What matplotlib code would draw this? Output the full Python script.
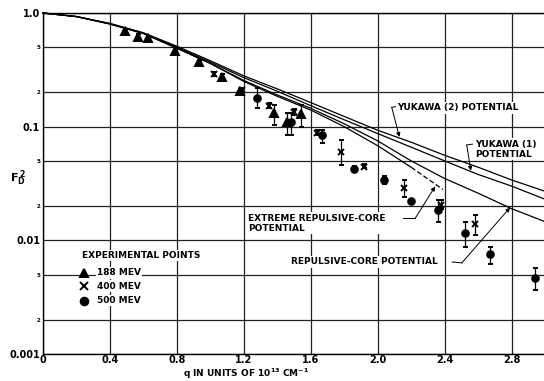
import numpy as np
import matplotlib.pyplot as plt

plt.rcParams['font.family'] = 'DejaVu Sans'
plt.rcParams['font.weight'] = 'bold'
plt.rcParams['mathtext.default'] = 'bf'

# theoretical curves
q_curve = [0.0, 0.2, 0.4, 0.6, 0.8, 1.0, 1.2, 1.4, 1.6, 1.8, 2.0, 2.2, 2.4, 2.6, 2.8, 3.0]
yukawa2 = [1.0, 0.93, 0.81, 0.67, 0.51, 0.38, 0.28, 0.215, 0.163, 0.123, 0.093, 0.073, 0.056, 0.044, 0.034, 0.027]
yukawa1 = [1.0, 0.93, 0.805, 0.665, 0.50, 0.37, 0.27, 0.205, 0.153, 0.115, 0.087, 0.066, 0.050, 0.038, 0.030, 0.023]
rep_core = [1.0, 0.93, 0.80, 0.66, 0.49, 0.36, 0.255, 0.19, 0.145, 0.106, 0.075, 0.050, 0.035, 0.026, 0.019, 0.0146]
q_ext = [0.0, 0.2, 0.4, 0.6, 0.8, 1.0, 1.2, 1.4, 1.6, 1.8, 2.0, 2.2, 2.39]
ext_core = [1.0, 0.93, 0.80, 0.66, 0.49, 0.36, 0.25, 0.185, 0.14, 0.10, 0.068, 0.044, 0.028]
ext_dash_from = 2.2

# experimental points
q188 = [0.49, 0.57, 0.63, 0.79, 0.93, 1.07, 1.18, 1.38, 1.46, 1.54]
f188 = [0.695, 0.62, 0.60, 0.46, 0.373, 0.275, 0.206, 0.131, 0.111, 0.129]
lo188 = [0.66, 0.59, 0.57, 0.45, 0.365, 0.255, 0.20, 0.104, 0.085, 0.100]
hi188 = [0.73, 0.65, 0.63, 0.475, 0.38, 0.29, 0.215, 0.155, 0.132, 0.155]

q400 = [1.02, 1.19, 1.35, 1.50, 1.64, 1.78, 1.92, 2.16, 2.38, 2.58]
f400 = [0.289, 0.21, 0.153, 0.134, 0.0887, 0.060, 0.0446, 0.0288, 0.0206, 0.0139]
lo400 = [0.28, 0.203, 0.147, 0.127, 0.085, 0.046, 0.043, 0.0242, 0.019, 0.0112]
hi400 = [0.30, 0.218, 0.16, 0.142, 0.093, 0.0765, 0.047, 0.0342, 0.0225, 0.0168]

q500 = [1.28, 1.48, 1.67, 1.86, 2.04, 2.20, 2.36, 2.52, 2.67, 2.94]
f500 = [0.178, 0.109, 0.0847, 0.0423, 0.034, 0.022, 0.0186, 0.0116, 0.0076, 0.00467]
lo500 = [0.146, 0.085, 0.072, 0.040, 0.031, 0.021, 0.0146, 0.0087, 0.0062, 0.00369]
hi500 = [0.219, 0.132, 0.094, 0.045, 0.037, 0.023, 0.0227, 0.0146, 0.0088, 0.00574]

xticks = [0, 0.4, 0.8, 1.2, 1.6, 2.0, 2.4, 2.8]
xticklabels = ['0', '0.4', '0.8', '1.2', '1.6', '2.0', '2.4', '2.8']
yticks_major = [1.0, 0.1, 0.01, 0.001]
ylabels_major = ['1.0', '0.1', '0.01', '0.001']
yticks_minor = [0.5, 0.2, 0.05, 0.02, 0.005, 0.002]
ylabels_minor = ['5', '2', '5', '2', '5', '2']

fig = plt.figure(figsize=(5.44, 3.81), dpi=100)
ax = fig.add_axes([43 / 544, 27 / 381, 502 / 544, 341 / 381])
ax.set_yscale('log')
ax.set_xlim(0, 3.0)
ax.set_ylim(0.001, 1.0)

ax.set_xticks(xticks)
ax.set_xticklabels(xticklabels, fontsize=7)
ax.set_yticks(yticks_major)
ax.set_yticklabels(ylabels_major, fontsize=7)
ax.set_yticks(yticks_minor, minor=True)
ax.set_yticklabels(ylabels_minor, minor=True, fontsize=4)
ax.tick_params(which='both', length=0, pad=2)
ax.tick_params(axis='x', pad=1)
ax.grid(True, which='both', color='#222222', lw=0.9)
ax.spines['right'].set_visible(False)
for s in ['left', 'top', 'bottom']:
    ax.spines[s].set_linewidth(1.0)

lw = 0.9
ax.plot(q_curve, yukawa2, color='k', lw=lw, clip_on=False)
ax.plot(q_curve, yukawa1, color='k', lw=lw, clip_on=False)
ax.plot(q_curve, rep_core, color='k', lw=lw, clip_on=False)
q_ext_a = np.array(q_ext)
ext_a = np.array(ext_core)
solid = q_ext_a <= ext_dash_from
dash = q_ext_a >= ext_dash_from
ax.plot(q_ext_a[solid], ext_a[solid], color='k', lw=lw, clip_on=False)
ax.plot(q_ext_a[dash], ext_a[dash], color='k', lw=lw, ls=(0, (4, 2)))

def points(q, f, lo, hi, marker, ms):
    f = np.array(f)
    err = [f - np.array(lo), np.array(hi) - f]
    ax.errorbar(q, f, yerr=err, fmt=marker, ms=ms, color='k', mew=1.4,
                elinewidth=0.9, capsize=1.8, capthick=0.9, zorder=3)

points(q188, f188, lo188, hi188, '^', 5.5)
points(q400, f400, lo400, hi400, 'x', 4.5)
points(q500, f500, lo500, hi500, 'o', 4.8)

box = dict(fc='white', ec='none', pad=1.0)
tfs = 6.5
arrow = dict(arrowstyle='-|>', color='k', lw=0.7, mutation_scale=6, shrinkA=0, shrinkB=0)

# Yukawa (2)
ax.text(2.115, 0.146, 'YUKAWA (2) POTENTIAL', fontsize=tfs, va='center', ha='left', bbox=box)
ax.plot([2.11, 2.084], [0.150, 0.148], color='k', lw=0.7)
ax.annotate('', xy=(2.13, 0.0813), xytext=(2.084, 0.148), arrowprops=arrow)

# Yukawa (1)
ax.text(2.58, 0.0633, 'YUKAWA (1)\nPOTENTIAL', fontsize=tfs, va='center', ha='left',
        linespacing=1.2, bbox=box)
ax.plot([2.575, 2.532], [0.0705, 0.069], color='k', lw=0.7)
ax.annotate('', xy=(2.557, 0.041), xytext=(2.532, 0.069), arrowprops=arrow)

# Extreme repulsive core
ax.text(1.225, 0.0141, 'EXTREME REPULSIVE-CORE\nPOTENTIAL', fontsize=tfs, va='center',
        ha='left', linespacing=1.2, bbox=box)
ax.plot([2.15, 2.224], [0.0156, 0.0156], color='k', lw=0.7)
ax.annotate('', xy=(2.343, 0.0297), xytext=(2.224, 0.0156), arrowprops=arrow)

# Repulsive core
ax.text(1.482, 0.00645, 'REPULSIVE-CORE POTENTIAL', fontsize=tfs, va='center', ha='left', bbox=box)
ax.plot([2.445, 2.503], [0.00645, 0.00633], color='k', lw=0.7)
ax.annotate('', xy=(2.791, 0.0194), xytext=(2.503, 0.00633), arrowprops=arrow)

# key
ax.text(0.233, 0.00736, 'EXPERIMENTAL POINTS', fontsize=tfs, va='center', ha='left', bbox=box)
key_y = [0.00518, 0.00395, 0.00295]
key_m = ['^', 'x', 'o']
key_t = ['188 MEV', '400 MEV', '500 MEV']
for yy, m, t in zip(key_y, key_m, key_t):
    ax.text(0.323, yy, t, fontsize=tfs, va='center', ha='left', bbox=box)
    ax.plot([0.245], [yy], marker=m, ms=5.5, color='k', mew=1.4, ls='none', zorder=4)

fig.text(10 / 544, 1 - 178 / 381, r'$F_D^{\,2}$', fontsize=8, ha='left', va='center')
fig.text(183 / 544, 7 / 381, r'q IN UNITS OF 10$^{13}$ CM$^{-1}$', fontsize=6.5,
         ha='left', va='center')

fig.savefig('out.png', dpi=100)
